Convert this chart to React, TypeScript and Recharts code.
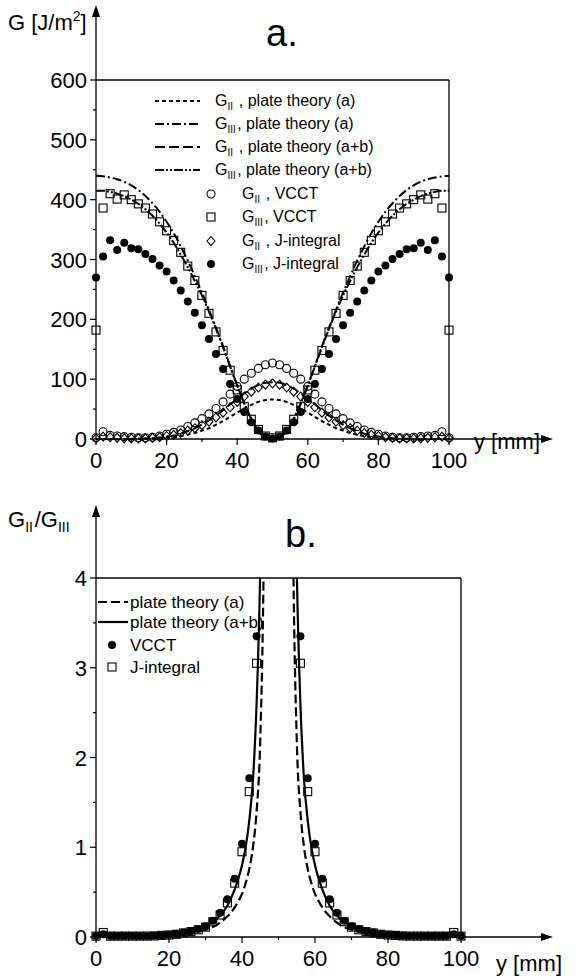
import React from 'react';
import { ComposedChart, Line, Scatter, XAxis, YAxis, ReferenceLine } from 'recharts';

const FONT = '"Liberation Sans", Arial, Helvetica, sans-serif';

// ---- chart a: energy release rates along the crack front ----
const posA = [0, 2, 4, 6, 8, 10, 12, 14, 16, 18, 20, 22, 24, 26, 28, 30, 32, 34, 36, 38, 40, 42, 44, 46, 48, 50,
  52, 54, 56, 58, 60, 62, 64, 66, 68, 70, 72, 74, 76, 78, 80, 82, 84, 86, 88, 90, 92, 94, 96, 98, 100];

const gIIVcct = [2, 12, 6, 5, 4, 3, 2, 2, 3, 5, 8, 11, 15, 21, 27, 34, 42, 51, 62, 75, 88, 100, 110, 118, 124, 127,
  124, 118, 110, 100, 88, 75, 62, 51, 42, 34, 27, 21, 15, 11, 8, 5, 3, 2, 2, 3, 4, 5, 6, 12, 2];
const gIIIVcct = [182, 386, 410, 401, 408, 400, 393, 386, 376, 363, 348, 332, 312, 289, 265, 240, 210, 179, 148, 115, 82, 54, 33, 16, 5, 2,
  5, 16, 33, 54, 82, 115, 148, 179, 210, 240, 265, 289, 312, 332, 348, 363, 376, 386, 393, 400, 408, 401, 410, 386, 182];
const gIIJint = [1, 4, 3, 2, 1, 1, 1, 1, 2, 3, 5, 7, 10, 14, 18, 23, 29, 36, 44, 53, 62, 71, 79, 86, 91, 93,
  91, 86, 79, 71, 62, 53, 44, 36, 29, 23, 18, 14, 10, 7, 5, 3, 2, 1, 1, 1, 1, 2, 3, 4, 1];
const gIIIJint = [270, 305, 332, 316, 328, 319, 317, 309, 301, 290, 280, 265, 248, 230, 211, 190, 167, 142, 117, 92, 67, 45, 28, 14, 4, 1,
  4, 14, 28, 45, 67, 92, 117, 142, 167, 190, 211, 230, 248, 265, 280, 290, 301, 309, 317, 319, 328, 316, 332, 305, 270];

const gIIPlateA = [0, 0, 0, 0, 0.1, 0.2, 0.3, 0.5, 0.8, 1.2, 2, 3, 5, 7, 10, 14, 18, 24, 30, 37, 44, 51, 57, 62, 65, 66,
  65, 62, 57, 51, 44, 37, 30, 24, 18, 14, 10, 7, 5, 3, 2, 1.2, 0.8, 0.5, 0.3, 0.2, 0.1, 0, 0, 0, 0];
const gIIIPlateA = [440, 439, 437, 434, 430, 424, 416, 406, 394, 380, 363, 344, 322, 298, 272, 245, 216, 186, 155, 122, 90, 60, 34, 14, 3, 0,
  3, 14, 34, 60, 90, 122, 155, 186, 216, 245, 272, 298, 322, 344, 363, 380, 394, 406, 416, 424, 430, 434, 437, 439, 440];
const gIIPlateAB = [0, 0, 0, 0, 0.1, 0.3, 0.5, 0.8, 1.3, 2.5, 4, 6, 9, 13, 18, 24, 31, 39, 48, 58, 67, 76, 84, 90, 94, 95,
  94, 90, 84, 76, 67, 58, 48, 39, 31, 24, 18, 13, 9, 6, 4, 2.5, 1.3, 0.8, 0.5, 0.3, 0.1, 0, 0, 0, 0];
const gIIIPlateAB = [415, 415, 413, 410, 406, 400, 393, 384, 373, 360, 345, 328, 308, 287, 264, 240, 213, 184, 153, 121, 89, 59, 33, 13, 3, 0,
  3, 13, 33, 59, 89, 121, 153, 184, 213, 240, 264, 287, 308, 328, 345, 360, 373, 384, 393, 400, 406, 410, 413, 415, 415];

const xTicksA = [0, 10, 20, 30, 40, 50, 60, 70, 80, 90, 100];
const yTicksA = [0, 50, 100, 150, 200, 250, 300, 350, 400, 450, 500, 550, 600];

// ---- chart b: mode ratio G_II / G_III ----
const posB = [0, 2, 4, 6, 8, 10, 12, 14, 16, 18, 20, 22, 24, 26, 28, 30, 32, 34, 36, 38, 40, 42, 44,
  56, 58, 60, 62, 64, 66, 68, 70, 72, 74, 76, 78, 80, 82, 84, 86, 88, 90, 92, 94, 96, 98, 100];
const ratioVcct = [0.01, 0.03, 0.01, 0.01, 0.01, 0.01, 0.01, 0.01, 0.015, 0.02, 0.025, 0.035, 0.05, 0.065, 0.09, 0.12, 0.18, 0.27, 0.42, 0.65, 1.04, 1.77, 3.35,
  3.35, 1.77, 1.04, 0.65, 0.42, 0.27, 0.18, 0.12, 0.09, 0.065, 0.05, 0.035, 0.025, 0.02, 0.015, 0.01, 0.01, 0.01, 0.01, 0.01, 0.01, 0.03, 0.01];
const ratioJint = [0.01, 0.05, 0.01, 0.01, 0.01, 0.01, 0.01, 0.01, 0.012, 0.018, 0.022, 0.03, 0.045, 0.06, 0.08, 0.11, 0.17, 0.245, 0.38, 0.6, 0.95, 1.62, 3.05,
  3.05, 1.62, 0.95, 0.6, 0.38, 0.245, 0.17, 0.11, 0.08, 0.06, 0.045, 0.03, 0.022, 0.018, 0.012, 0.01, 0.01, 0.01, 0.01, 0.01, 0.01, 0.05, 0.01];

const posL = [0, 5, 10, 15, 20, 25, 28, 30, 32, 34, 36, 38, 39, 40, 41, 42, 43, 44, 45, 46, 47, 48,
  52, 53, 54, 55, 56, 57, 58, 59, 60, 61, 62, 64, 66, 68, 70, 72, 75, 80, 85, 90, 95, 100];
const ratioPlateA = [0, 0.001, 0.003, 0.007, 0.015, 0.035, 0.06, 0.08, 0.11, 0.16, 0.23, 0.33, 0.4, 0.48, 0.6, 0.76, 1.0, 1.4, 2.2, 4.4, 10, 25,
  25, 10, 4.4, 2.2, 1.4, 1.0, 0.76, 0.6, 0.48, 0.4, 0.33, 0.23, 0.16, 0.11, 0.08, 0.06, 0.035, 0.015, 0.007, 0.003, 0.001, 0];
const ratioPlateAB = [0, 0.002, 0.005, 0.012, 0.025, 0.055, 0.09, 0.125, 0.17, 0.24, 0.35, 0.53, 0.65, 0.8, 1.0, 1.3, 1.75, 2.6, 4.1, 7, 14, 30,
  30, 14, 7, 4.1, 2.6, 1.75, 1.3, 1.0, 0.8, 0.65, 0.53, 0.35, 0.24, 0.17, 0.125, 0.09, 0.055, 0.025, 0.012, 0.005, 0.002, 0];

const yTicksB = [0, 0.5, 1, 1.5, 2, 2.5, 3, 3.5, 4];

const zip = (xs: number[], ys: number[]) => xs.map((x, i) => ({ x, y: ys[i] }));

// ---- markers ----
const openCircle = (p: any) => <circle cx={p.cx} cy={p.cy} r={4} fill="none" stroke="#000" strokeWidth={1.1} />;
const openSquare = (p: any) => (
  <rect x={p.cx - 4} y={p.cy - 4} width={8} height={8} fill="none" stroke="#000" strokeWidth={1.1} />
);
const openDiamond = (p: any) => (
  <path d={`M${p.cx},${p.cy - 4.5}L${p.cx + 4},${p.cy}L${p.cx},${p.cy + 4.5}L${p.cx - 4},${p.cy}Z`} fill="none" stroke="#000" strokeWidth={1.1} />
);
const dot = (p: any) => <circle cx={p.cx} cy={p.cy} r={4} fill="#000" />;

// ---- ticks: long ticks with labels on majors, short ones between ----
const xTick = (props: any) => {
  const { x, y, payload } = props;
  const major = payload.value % 20 === 0;
  return (
    <g>
      <line x1={x} x2={x} y1={y} y2={y + (major ? 6 : 3)} stroke="#000" strokeWidth={1.2} />
      {major && (
        <text x={x} y={y + 29} textAnchor="middle" fontSize={22} fontFamily={FONT} fill="#000">
          {payload.value}
        </text>
      )}
    </g>
  );
};

const yTick = (step: number) => (props: any) => {
  const { x, y, payload } = props;
  const major = Math.abs(payload.value / step - Math.round(payload.value / step)) < 1e-6;
  return (
    <g>
      <line x1={x} x2={x - (major ? 6 : 3)} y1={y} y2={y} stroke="#000" strokeWidth={1.2} />
      {major && (
        <text x={x - 9} y={y + 8} textAnchor="end" fontSize={22} fontFamily={FONT} fill="#000">
          {payload.value}
        </text>
      )}
    </g>
  );
};

const axisLine = { stroke: '#000', strokeWidth: 1.3 };

const Sub = ({ t, size, d = 4 }: { t: string; size: number; d?: number }) => (
  <>
    <tspan dy={d} fontSize={size}>{t}</tspan>
    <tspan dy={-d}>{'\u200A'}</tspan>
  </>
);

const Arrow = ({ x1, y1, x2, y2 }: { x1: number; y1: number; x2: number; y2: number }) => {
  const vertical = x1 === x2;
  const head = vertical
    ? `${x2},${y2} ${x2 - 4},${y2 + 12} ${x2 + 4},${y2 + 12}`
    : `${x2},${y2} ${x2 - 12},${y2 - 4} ${x2 - 12},${y2 + 4}`;
  return (
    <g>
      <line x1={x1} y1={y1} x2={vertical ? x2 : x2 - 10} y2={vertical ? y2 + 10 : y2} stroke="#000" strokeWidth={1.3} />
      <polygon points={head} fill="#000" />
    </g>
  );
};

export default function App() {
  const topLegendLines = [
    { dash: '4 3', label: 'II', rest: ' , plate theory (a)' },
    { dash: '9 3 2 3', label: 'III', rest: ', plate theory (a)' },
    { dash: '10 4', label: 'II', rest: ' , plate theory (a+b)' },
    { dash: '9 2 2 2 2 2', label: 'III', rest: ', plate theory (a+b)' },
  ];
  const topLegendMarks = [
    { m: openCircle, label: 'II', rest: ' , VCCT' },
    { m: openSquare, label: 'III', rest: ', VCCT' },
    { m: openDiamond, label: 'II', rest: ' , J-integral' },
    { m: dot, label: 'III', rest: ', J-integral' },
  ];
  const lineRowsY = [101, 124, 147, 170];
  const markRowsY = [194, 217, 241, 264];

  return (
    <div style={{ position: 'absolute', left: 0, top: 0, width: 576, height: 978, background: '#fff', fontFamily: FONT }}>
      <div style={{ position: 'absolute', left: 0, top: 0 }}>
        <ComposedChart width={576} height={490} margin={{ top: 80, right: 127, bottom: 11, left: 36 }}>
          <XAxis type="number" dataKey="x" domain={[0, 100]} ticks={xTicksA} interval={0} height={40}
            axisLine={axisLine} tickLine={false} tickSize={0} tickMargin={0} tick={xTick} />
          <YAxis type="number" domain={[0, 600]} ticks={yTicksA} interval={0} width={60}
            axisLine={axisLine} tickLine={false} tickSize={0} tickMargin={0} tick={yTick(100)} />
          <ReferenceLine y={600} stroke="#000" strokeWidth={1.3} />
          <ReferenceLine x={100} stroke="#000" strokeWidth={1.3} />
          <Line data={zip(posA, gIIPlateA)} dataKey="y" type="monotone" stroke="#000" strokeWidth={2} strokeDasharray="4 3" dot={false} isAnimationActive={false} />
          <Line data={zip(posA, gIIIPlateA)} dataKey="y" type="monotone" stroke="#000" strokeWidth={2} strokeDasharray="9 3 2 3" dot={false} isAnimationActive={false} />
          <Line data={zip(posA, gIIPlateAB)} dataKey="y" type="monotone" stroke="#000" strokeWidth={2} strokeDasharray="10 4" dot={false} isAnimationActive={false} />
          <Line data={zip(posA, gIIIPlateAB)} dataKey="y" type="monotone" stroke="#000" strokeWidth={2} strokeDasharray="9 2 2 2 2 2" dot={false} isAnimationActive={false} />
          <Scatter data={zip(posA, gIIJint)} dataKey="y" shape={openDiamond} isAnimationActive={false} />
          <Scatter data={zip(posA, gIIVcct)} dataKey="y" shape={openCircle} isAnimationActive={false} />
          <Scatter data={zip(posA, gIIIVcct)} dataKey="y" shape={openSquare} isAnimationActive={false} />
          <Scatter data={zip(posA, gIIIJint)} dataKey="y" shape={dot} isAnimationActive={false} />
        </ComposedChart>
      </div>

      <div style={{ position: 'absolute', left: 0, top: 490 }}>
        <ComposedChart width={576} height={488} margin={{ top: 88, right: 115, bottom: 6, left: 36 }}>
          <XAxis type="number" dataKey="x" domain={[0, 100]} ticks={xTicksA} interval={0} height={35}
            axisLine={axisLine} tickLine={false} tickSize={0} tickMargin={0} tick={xTick} />
          <YAxis yAxisId="v" type="number" domain={[0, 4]} ticks={yTicksB} interval={0} width={60}
            axisLine={axisLine} tickLine={false} tickSize={0} tickMargin={0} tick={yTick(1)} />
          <YAxis yAxisId="lines" orientation="right" type="number" domain={[0, 4]} allowDataOverflow hide width={0} />
          <ReferenceLine yAxisId="v" y={4} stroke="#000" strokeWidth={1.3} />
          <ReferenceLine yAxisId="v" x={100} stroke="#000" strokeWidth={1.3} />
          <Line yAxisId="lines" data={zip(posL, ratioPlateA)} dataKey="y" type="monotone" stroke="#000" strokeWidth={2.2} strokeDasharray="9 4" dot={false} isAnimationActive={false} />
          <Line yAxisId="lines" data={zip(posL, ratioPlateAB)} dataKey="y" type="monotone" stroke="#000" strokeWidth={2.2} dot={false} isAnimationActive={false} />
          <Scatter yAxisId="v" data={zip(posB, ratioJint)} dataKey="y" shape={openSquare} isAnimationActive={false} />
          <Scatter yAxisId="v" data={zip(posB, ratioVcct)} dataKey="y" shape={dot} isAnimationActive={false} />
        </ComposedChart>
      </div>

      <svg width={576} height={978} style={{ position: 'absolute', left: 0, top: 0, pointerEvents: 'none' }} fontFamily={FONT}>
        {/* axis arrows */}
        <Arrow x1={96} y1={80} x2={96} y2={5} />
        <Arrow x1={449} y1={439} x2={553} y2={439} />
        <Arrow x1={96} y1={578} x2={96} y2={505} />
        <Arrow x1={461} y1={937} x2={553} y2={937} />

        {/* titles and axis names */}
        <text x={266} y={46} fontSize={38}>a.</text>
        <text x={285} y={547} fontSize={38}>b.</text>
        <text x={8} y={30} fontSize={22}>
          G [J/m<tspan dy={-9} fontSize={14}>2</tspan><tspan dy={9}>]</tspan>
        </text>
        <text x={474} y={449} fontSize={22}>y [mm]</text>
        <text x={496} y={971} fontSize={22}>y [mm]</text>
        <text x={8} y={527} fontSize={22}>
          G<Sub t="II" size={14} d={5} />/G<Sub t="III" size={14} d={5} />
        </text>

        {/* legend, chart a */}
        {topLegendLines.map((r, i) => (
          <g key={'l' + i}>
            <line x1={155} x2={200} y1={lineRowsY[i]} y2={lineRowsY[i]} stroke="#000" strokeWidth={2} strokeDasharray={r.dash} />
            <text x={215} y={lineRowsY[i] + 5} fontSize={16}>
              G<Sub t={r.label} size={10} />{r.rest}
            </text>
          </g>
        ))}
        {topLegendMarks.map((r, i) => (
          <g key={'m' + i}>
            {r.m({ cx: 211, cy: markRowsY[i] })}
            <text x={242} y={markRowsY[i] + 5} fontSize={16}>
              G<Sub t={r.label} size={10} />{r.rest}
            </text>
          </g>
        ))}

        {/* legend, chart b */}
        <line x1={98} x2={128} y1={602} y2={602} stroke="#000" strokeWidth={2.2} strokeDasharray="9 4" />
        <text x={130} y={608} fontSize={17}>plate theory (a)</text>
        <line x1={98} x2={128} y1={622} y2={622} stroke="#000" strokeWidth={2.2} />
        <text x={130} y={628} fontSize={17}>plate theory (a+b)</text>
        {dot({ cx: 112, cy: 645 })}
        <text x={130} y={651} fontSize={17}>VCCT</text>
        {openSquare({ cx: 112, cy: 667 })}
        <text x={130} y={673} fontSize={17}>J-integral</text>
      </svg>
    </div>
  );
}
